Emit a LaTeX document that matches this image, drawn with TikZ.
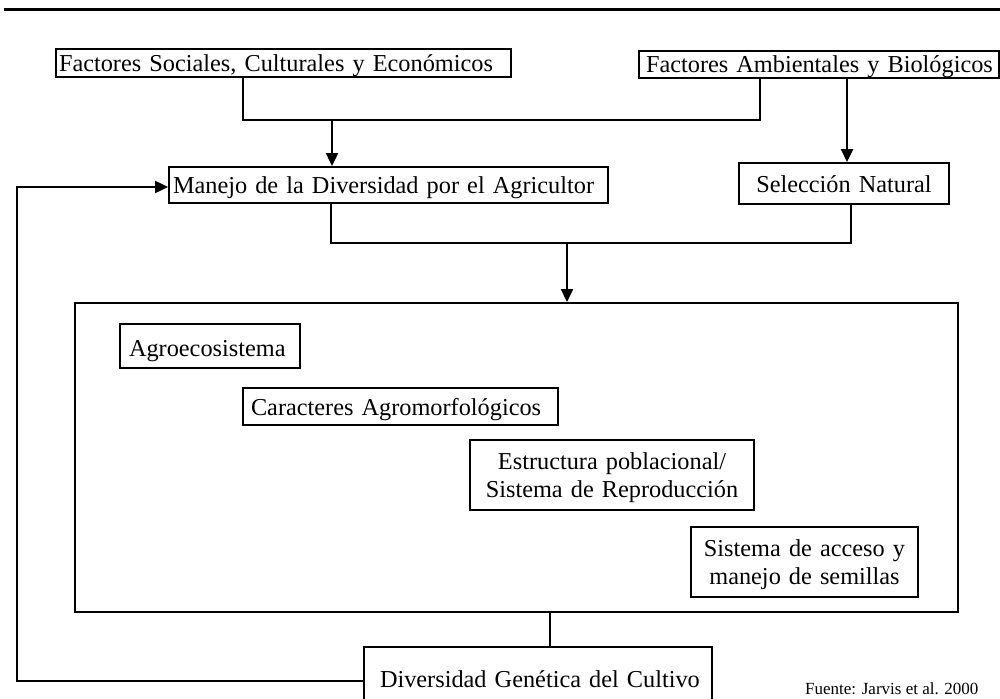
\documentclass[tikz,border=0pt]{standalone}
\usepackage{fontspec}
\setmainfont{Liberation Serif}
\usetikzlibrary{arrows.meta}
\begin{document}
\begin{tikzpicture}[x=1pt,y=-1pt,
  box/.style={draw, line width=2pt, anchor=north west, inner ysep=0pt,
    text height=17pt, text depth=0pt, font=\fontsize{24.3}{28}\selectfont},
  twoline/.style={box, align=center, inner xsep=4pt, text depth=28pt},
  link/.style={line width=2.4pt},
  arr/.style={link, -{Triangle[length=13pt,width=12pt]}},
]
\useasboundingbox (0,0) rectangle (1000,698);

% heading rule
\draw[line width=3pt] (4,10) -- (1000,10);

% factors
\node[box, minimum width=455pt, minimum height=28pt, inner xsep=3pt,
  text width=449pt, align=left] (fsoc) at (55,48)
  {\mbox{Factores Sociales, Culturales y Económicos}};
\node[box, minimum width=360pt, minimum height=27pt, inner xsep=7pt,
  text width=346pt, align=left] (famb) at (638,50)
  {\mbox{Factores Ambientales y Biológicos}};

% management and selection
\node[box, minimum width=439pt, minimum height=36pt, inner xsep=4pt,
  text width=431pt, align=left] (manejo) at (168,166)
  {\mbox{Manejo de la Diversidad por el Agricultor}};
\node[box, minimum width=210pt, minimum height=41pt, inner xsep=4pt,
  text width=202pt, align=center] (selnat) at (738,162)
  {\mbox{Selección Natural}};

% container with the components
\node[draw, line width=2.4pt, anchor=north west, inner sep=0pt,
  minimum width=883pt, minimum height=309pt] (caja) at (74,302) {};
\node[box, minimum width=180pt, minimum height=44pt, inner xsep=9pt,
  text width=162pt, align=left, text height=20pt] (agro) at (119,323)
  {\mbox{Agroecosistema}};
\node[box, minimum width=315pt, minimum height=37pt, inner xsep=8pt,
  text width=299pt, align=left] (carac) at (242,387)
  {\mbox{Caracteres Agromorfológicos}};
\node[twoline, minimum width=284pt, minimum height=70pt, text width=276pt]
  (estr) at (469,439) {Estructura poblacional/\\Sistema de Reproducción};
\node[twoline, minimum width=227pt, minimum height=70pt, text width=219pt]
  (acceso) at (690,526) {Sistema de acceso y\\manejo de semillas};

% result
\node[box, minimum width=348pt, minimum height=63pt, inner xsep=16pt,
  text width=316pt, align=left] (diver) at (363,646)
  {\mbox{Diversidad Genética del Cultivo}};

% source
\node[font=\fontsize{17}{20}\selectfont, anchor=base west, inner sep=0pt]
  (fuente) at (805,694) {Fuente: Jarvis et al. 2000};

% connectors
\coordinate (sA) at (243,120);
\coordinate (sB) at (760,120);
\coordinate (j1) at (332,120);
\draw[link] (sA |- fsoc.south) -- (sA) -- (sB) -- (sB |- famb.south);
\draw[arr] (j1) -- (j1 |- manejo.north);

\coordinate (j2) at (847,120);
\draw[arr] (j2 |- famb.south) -- (j2 |- selnat.north);

\coordinate (mA) at (331,243);
\coordinate (mB) at (851,243);
\coordinate (j3) at (567,243);
\draw[link] (mA |- manejo.south) -- (mA) -- (mB) -- (mB |- selnat.south);
\draw[arr] (j3) -- (j3 |- caja.north);

\coordinate (j4) at (550,620);
\draw[link] (j4 |- caja.south) -- (j4 |- diver.north);

\coordinate (fA) at (17,681);
\coordinate (fB) at (17,187);
\draw[arr] (diver.west |- fA) -- (fA) -- (fB) -- (fB -| manejo.west);
\end{tikzpicture}
\end{document}
